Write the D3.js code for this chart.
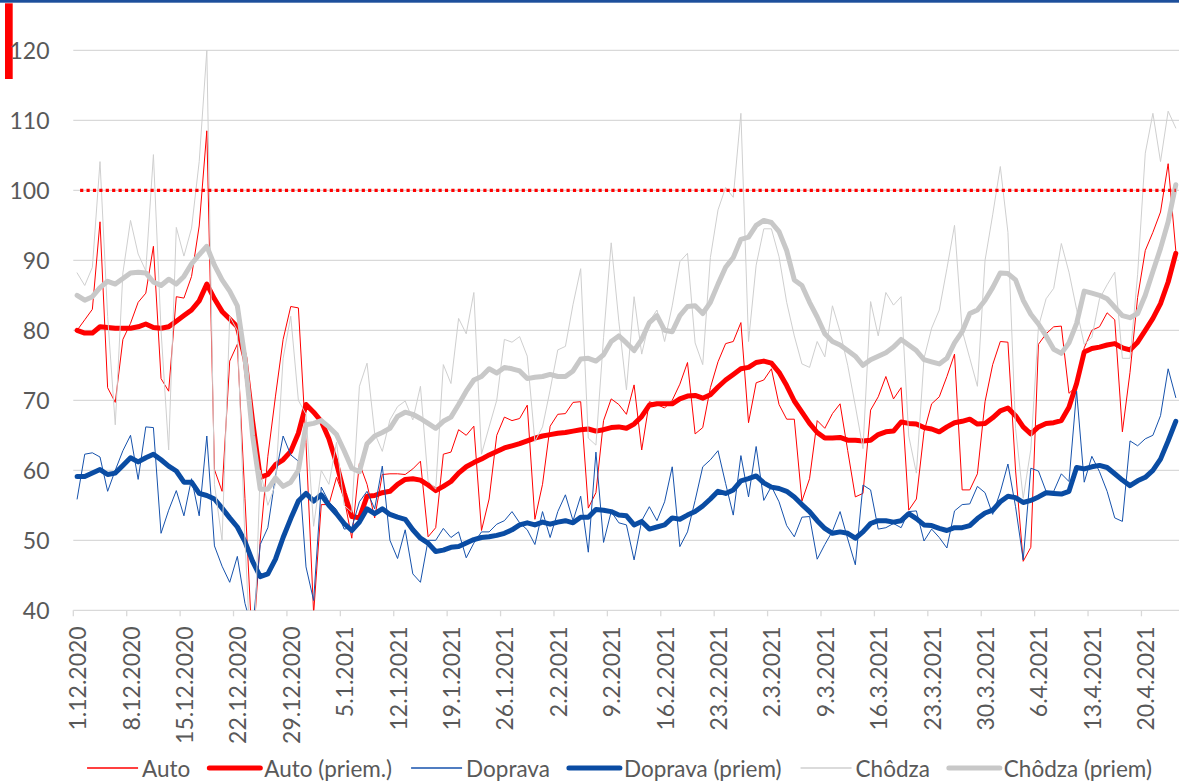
<!DOCTYPE html>
<html>
<head>
<meta charset="utf-8">
<script src="https://cdn.jsdelivr.net/npm/d3@7/dist/d3.min.js"></script>
<style>
  html, body { margin: 0; padding: 0; background: #ffffff; }
  svg { display: block; }
  text { font-family: Lato, "Open Sans", sans-serif; fill: #595959; }
</style>
</head>
<body>
<svg id="chart" width="1179" height="783"></svg>
<script>
// ---------- DATA ----------
const startDate = new Date(2020, 11, 1);   // 1.12.2020, daily categories
const dayCount = 145;                      // 1.12.2020 .. 24.4.2021

const tickLabels = ["1.12.2020","8.12.2020","15.12.2020","22.12.2020","29.12.2020",
  "5.1.2021","12.1.2021","19.1.2021","26.1.2021","2.2.2021","9.2.2021","16.2.2021",
  "23.2.2021","2.3.2021","9.3.2021","16.3.2021","23.3.2021","30.3.2021","6.4.2021",
  "13.4.2021","20.4.2021"];

const yTicks = [40, 50, 60, 70, 80, 90, 100, 110, 120];
const referenceLevel = 100;

const seriesNames = ["Auto", "Auto (priem.)", "Doprava", "Doprava (priem)", "Chôdza", "Chôdza (priem)"];

const auto = [80,81.5,83,95.5,71.8,69.7,78.7,81,84,85.3,92,73.1,71.3,84.8,84.6,87.7,94.9,108.5,60.1,57,
  75.6,78,56,34,50,62,70.6,78.7,83.4,83.2,64,39.5,55.1,55.1,59,56,50.3,61,58,53.2,
  59.4,59.5,59.5,59.4,60.2,61.3,50.5,51.8,62.3,62.6,65.8,65,66.3,51.4,55.9,65,67.6,67.1,67.4,69.3,
  53,58,66.3,68,68.1,69.7,69.8,54.6,56.8,67.1,70.2,69.4,68,72.2,62.9,69.8,69.4,68.9,70,72.3,
  75.4,65.2,66.1,71.8,75.5,78.1,78.4,81.1,66.8,72.5,72.9,74.5,69.4,67.3,67.3,55.6,58.8,67.1,66,68.1,
  69.5,62.8,56.2,56.7,68.6,70.5,73.4,70.2,71.8,54.3,55.9,65.5,69.5,70.5,73.4,76.6,57.2,57.2,59.5,69.8,
  75.1,78.4,78.3,60,47,49,78,79.5,80.5,80.6,71,72,77.5,80,80.5,82.5,81.5,65.5,74,84.7,
  91.4,94,96.9,103.8,91.4];

const autoAvg = [80,79.6,79.6,80.5,80.4,80.3,80.3,80.3,80.5,80.9,80.4,80.3,80.5,81.3,82.1,82.9,84.2,86.6,84.5,82.7,
  81.6,80.5,76,67,59,59.4,60.8,61.5,62.7,65.3,69.4,68.3,67,64.5,61,56.8,53.4,53.2,56.3,56.4,
  56.8,57,58,58.7,58.8,58.6,57.9,57.1,57.7,58.4,59.6,60.5,61.1,61.6,62.2,62.7,63.2,63.5,63.8,64.2,
  64.6,64.9,65.1,65.3,65.4,65.6,65.8,65.9,65.6,65.8,66.1,66.2,66,66.6,67.7,69.3,69.5,69.5,69.5,70.2,
  70.6,70.7,70.3,70.8,71.9,72.9,73.7,74.5,74.7,75.4,75.6,75.3,74,72.1,69.9,68.3,66.7,65.4,64.6,64.6,
  64.7,64.3,64.3,64.2,64.3,65.1,65.5,65.6,66.9,66.7,66.6,66.1,65.9,65.5,66.2,66.8,67,67.3,66.6,66.7,
  67.5,68.5,68.9,67.8,66.2,65.2,66.2,66.7,66.8,67.1,69,72.4,76.9,77.4,77.6,77.9,78.1,77.5,77.2,78.3,
  80,81.7,83.8,86.9,91];

const doprava = [55.9,62.3,62.5,61.9,57,60,62.8,65,58.7,66.2,66.1,51,54.3,57.1,53.5,58.8,53.5,64.9,49.2,46.3,
  44,47.7,41,37,49.4,51.8,59.2,64.9,62.2,61.3,46.2,41.4,57.6,55.5,54.4,51.6,51.8,55.5,57,54.5,
  60.6,50,47.4,51.5,45.2,44,50,50,51.7,50.4,51.2,47.5,49.6,51.2,51.2,52.3,52.8,54.1,52.5,51.5,
  49.4,54.1,50.4,54.1,56.5,52.8,56.3,48.3,62.6,49.7,54.1,52.5,52.2,47.2,52.8,54.8,52.8,55.5,60.5,49.1,
  51.2,55.7,60.5,61.5,62.8,58.1,53.6,62.1,56.2,63.4,55.7,57.7,55.5,52.1,50.5,53.3,53.4,47.3,49.4,51.3,
  54.1,50.2,46.5,57.9,57.2,51.6,51.8,52.4,51.8,54.1,54.2,49.9,51.6,50.4,48.9,54.2,55.1,55.2,57.7,56.8,
  53.7,56.9,60.9,54.8,47.2,60.3,59.9,57,57,59.5,58.4,71.3,58.3,62,59.8,57,53.2,52.7,64.2,63.5,
  64.5,65,67.8,74.5,70.4];

const dopravaAvg = [59.1,59.1,59.6,60.1,59.4,59.6,60.7,61.8,61.2,61.8,62.3,61.5,60.6,59.9,58.3,58.3,56.7,56.4,55.9,54.6,
  53.2,51.9,49.8,47,44.8,45.2,47.3,50.4,53.1,55.6,56.7,55.6,56.5,55,53.8,52.4,51.4,52.6,54.5,53.8,
  54.5,53.7,53.3,53,51.5,50.3,49.6,48.4,48.6,49,49.1,49.6,50.1,50.4,50.5,50.7,51,51.5,52.2,52.5,
  52.2,52.6,52.3,52.6,52.8,52.5,53.3,53.3,54.4,54.3,54.1,53.6,53.5,52.2,52.7,51.6,51.9,52.2,53.2,53,
  53.6,54.1,54.9,55.9,57,56.7,57.2,58.5,58.8,59.2,58.2,57.6,57.4,57,56.2,55.1,54.1,52.8,51.7,51,
  51.2,51,50.3,51.2,52.4,52.8,52.8,52.6,52.8,53.8,53.1,52.2,52.1,51.7,51.4,51.8,51.8,52.1,53.1,53.9,
  54.3,55.5,56.3,56.1,55.4,55.7,56.2,56.8,56.7,56.6,57,60.4,60.2,60.5,60.7,60.4,59.5,58.6,57.8,58.5,
  59,60,61.6,64.2,67];

const chodza = [88.2,86.4,89,104.1,82,66.5,88.2,95.7,90.9,88.5,105.1,80,62.9,94.7,90.6,94.6,104.1,120,58,50,
  82,80,50,28,60,55,58,76,82,70,68,52,60,58,64,55,54,72,75.3,65.3,
  62.7,67.2,69.1,69.9,67.2,72,58.5,57.3,75.1,72.4,81.7,79.5,85.4,62.3,66.2,70,78.7,78.3,79.1,76.3,
  64.1,66.2,71.5,77.2,77.7,83.7,88.8,64.6,63.6,79,92.5,81.3,71.5,84.8,76.6,81.3,82.9,78.4,83.5,89.8,
  91,78.2,75.1,90.4,97.2,100.4,99,111,78.4,89.3,94.5,94.5,90.5,84,79.2,75.2,74.7,78.4,76.2,83.5,
  79.8,75,69.2,63.1,84.1,79.2,85.4,83.6,84.8,64.9,59.6,76,80.3,82.9,88.8,95,80,76,72,90,
  96.5,103.4,94,66,56,63,80.5,84.5,86,92.4,88.3,83,78,79,84.5,86.5,88.3,76,76,88,
  105.3,111,104.1,111.3,108.9];

const chodzaAvg = [85,84.3,84.8,86.1,87,86.6,87.4,88.2,88.3,88.2,86.9,86.4,87.3,86.6,87.7,89.5,90.8,92,89.3,87.2,
  85.6,83.5,76,65,57.3,57.3,58.9,57.7,58.3,60,66.5,66.7,67.1,66.2,65.1,62.8,60.3,59.8,63.8,64.9,
  65.4,66,67.7,68.3,68,67.4,66.7,66,67,67.6,69.4,71.3,72.9,73.4,74.5,73.9,74.7,74.5,74.2,73.1,
  73.3,73.4,73.7,73.4,73.4,74.2,75.9,76,75.6,76.5,78.4,79.2,78.2,77.1,78.7,81.1,82.1,80,79.8,82.1,
  83.4,83.5,82.4,84,86.6,89,90.4,93,93.3,95,95.7,95.4,94.1,91.4,87.2,86.4,84,81.9,79.5,78.4,
  77.9,77.1,76.3,75,75.8,76.3,76.8,77.6,78.7,77.9,77.1,75.8,75.5,75.2,76,78.2,79.8,82.4,82.9,84.3,
  86.1,88.2,88.1,87.2,84.3,82.3,80.9,79.2,77.3,76.7,78.2,81,85.6,85.3,85,84.5,83.3,82.1,81.8,82.4,
  85,88.4,91.7,95.5,100.8];

// ---------- LAYOUT / STYLE ----------
const W = 1179, H = 783;
const plot = { left: 73.3, right: 1179.6, top: 50.3, bottom: 610.3 };
const gridColor = "#d9d9d9";
const fontSize = 23;
const legendFontSize = 22.5;
const styles = [
  { color: "#ff0000", width: 1 },
  { color: "#ff0000", width: 5 },
  { color: "#1652ac", width: 1 },
  { color: "#0a4ca3", width: 5 },
  { color: "#cfcfcf", width: 1 },
  { color: "#c8c8c8", width: 5 }
];
const seriesData = [auto, autoAvg, doprava, dopravaAvg, chodza, chodzaAvg];

const svg = d3.select("#chart");

const days = d3.timeDay.range(startDate, d3.timeDay.offset(startDate, dayCount));
const x = d3.scaleBand().domain(d3.range(days.length)).range([plot.left, plot.right]).padding(0);
const cx = i => x(i) + x.bandwidth() / 2;
const y = d3.scaleLinear().domain([40, 120]).range([plot.bottom, plot.top]);

// header decorations
svg.append("rect").attr("x", 0).attr("y", 0).attr("width", W).attr("height", 2.7).attr("fill", "#1d4f9c");
svg.append("rect").attr("x", 5).attr("y", 3.3).attr("width", 7.7).attr("height", 75.7).attr("fill", "#ff0000");

// gridlines
svg.append("g").selectAll("line").data(yTicks).join("line")
  .attr("x1", plot.left).attr("x2", W)
  .attr("y1", d => y(d)).attr("y2", d => y(d))
  .attr("stroke", gridColor).attr("stroke-width", 1.3);

// y labels
svg.append("g").selectAll("text").data(yTicks).join("text")
  .attr("x", 49.5).attr("y", d => y(d)).attr("text-anchor", "end")
  .attr("dominant-baseline", "central").attr("font-size", fontSize)
  .text(d => d);

// x ticks & labels
const tickIdx = tickLabels.map((t, k) => k * 7);
svg.append("g").selectAll("line").data(tickIdx).join("line")
  .attr("x1", d => x(d)).attr("x2", d => x(d))
  .attr("y1", plot.bottom).attr("y2", plot.bottom + 6)
  .attr("stroke", gridColor).attr("stroke-width", 1.3);

svg.append("g").selectAll("text").data(tickLabels).join("text")
  .attr("transform", (t, k) => `translate(${cx(k * 7)},${plot.bottom + 16}) rotate(-90)`)
  .attr("text-anchor", "end").attr("dominant-baseline", "central")
  .attr("font-size", fontSize)
  .text(t => t);

// clip
svg.append("clipPath").attr("id", "plotclip").append("rect")
  .attr("x", plot.left).attr("y", plot.top - 6).attr("width", W - plot.left).attr("height", plot.bottom - plot.top + 6);

const line = d3.line().x((v, i) => cx(i)).y(v => y(v));
const gLines = svg.append("g").attr("clip-path", "url(#plotclip)");
seriesData.forEach((s, k) => {
  gLines.append("path").datum(s)
    .attr("d", line)
    .attr("fill", "none")
    .attr("stroke", styles[k].color)
    .attr("stroke-width", styles[k].width)
    .attr("stroke-linejoin", "round")
    .attr("stroke-linecap", "round");
});

// reference line 100
gLines.append("line")
  .attr("x1", cx(0) + 3).attr("x2", cx(dayCount - 1))
  .attr("y1", y(referenceLevel)).attr("y2", y(referenceLevel))
  .attr("stroke", "#ff0000").attr("stroke-width", 3.2)
  .attr("stroke-dasharray", "3.2,3.2");

// legend
const legend = svg.append("g");
const sampleLen = 51, sampleGap = 4, itemGap = 19, legendY = 768;
const items = seriesNames.map((name, k) => {
  const g = legend.append("g");
  g.append("line").attr("x1", 0).attr("x2", sampleLen).attr("y1", 0).attr("y2", 0)
    .attr("stroke", styles[k].color).attr("stroke-width", styles[k].width === 1 ? 1.5 : 5)
    .attr("stroke-linecap", styles[k].width === 1 ? "butt" : "round");
  const t = g.append("text").attr("x", sampleLen + sampleGap).attr("y", 0)
    .attr("dominant-baseline", "central").attr("font-size", legendFontSize).text(name);
  return { g, w: sampleLen + sampleGap + t.node().getComputedTextLength() };
});
const total = d3.sum(items, d => d.w) + itemGap * (items.length - 1);
let lx = 619.5 - total / 2;
items.forEach(it => {
  it.g.attr("transform", `translate(${lx},${legendY})`);
  lx += it.w + itemGap;
});
</script>
</body>
</html>
